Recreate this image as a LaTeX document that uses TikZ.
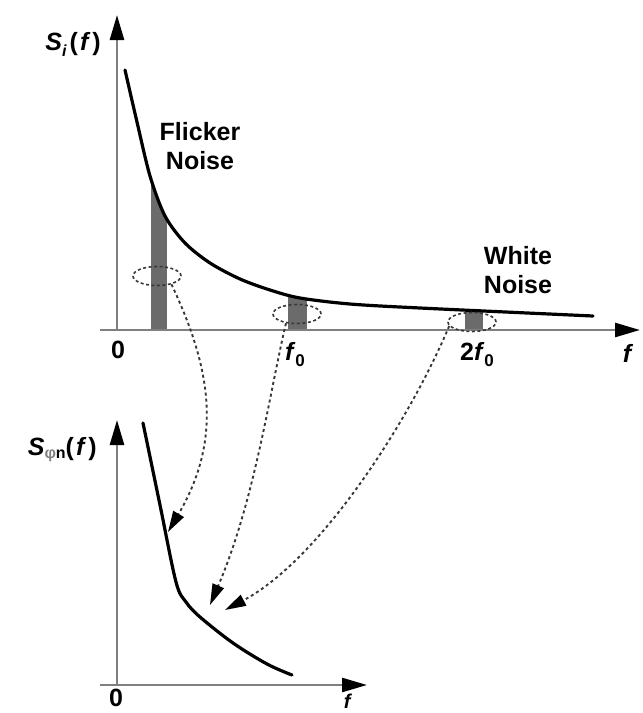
\documentclass[tikz,border=0pt]{standalone}
\usepackage{fontspec}
\setmainfont{Liberation Sans}
\usetikzlibrary{arrows.meta,shapes.geometric}
\definecolor{axisgray}{gray}{0.5}
\definecolor{bargray}{gray}{0.42}
\definecolor{dashgray}{gray}{0.22}
\begin{document}
\begin{tikzpicture}[x=1pt,y=-1pt,
  font=\fontsize{25}{29}\selectfont\bfseries,
  axis/.style={draw=axisgray, line width=2.6pt, -{Triangle[length=25pt,width=14pt,color=black]}},
  curve/.style={line width=3.2pt, line cap=round},
  slice/.style={ellipse, draw=dashgray, dash pattern=on 3pt off 2.5pt, line width=1.6pt, minimum width=48pt, minimum height=19pt, inner sep=0pt},
  link/.style={draw=dashgray, dash pattern=on 3pt off 3pt, line width=1.9pt, -{Triangle[length=21pt,width=12pt,color=black]}},
  lab/.style={inner sep=0pt, anchor=base}]
\useasboundingbox (0,0) rectangle (643,713);
% coordinates
\coordinate (ya1) at (117,330);
\coordinate (yb1) at (117,15);
\coordinate (xa1) at (100,330);
\coordinate (xb1) at (640,330);
\coordinate (ya2) at (117,685);
\coordinate (yb2) at (117,420);
\coordinate (xa2) at (100,685);
\coordinate (xb2) at (367,685);
% bars under the top curve
\begin{scope}
  \clip plot[smooth] coordinates {(125,70) (137,122) (150,176) (165,216) (185,243) (210,263) (240,279) (270,290) (300,298) (350,304) (420,308) (593,316)} -- (593,330) -- (125,330) -- cycle;
  \fill[bargray] (151,60) rectangle (167,330);
  \fill[bargray] (288,60) rectangle (307,330);
  \fill[bargray] (465,60) rectangle (483,330);
\end{scope}
% axes
\draw[axis] (ya1) -- (yb1);
\draw[axis] (xa1) -- (xb1);
\draw[axis] (ya2) -- (yb2);
\draw[axis] (xa2) -- (xb2);
% curves
\draw[curve] plot[smooth] coordinates {(125,70) (137,122) (150,176) (165,216) (185,243) (210,263) (240,279) (270,290) (300,298) (350,304) (420,308) (593,316)};
\draw[curve] plot[smooth, tension=0.55] coordinates {(143,423) (160,505) (176,582) (186,602) (200,617) (233,643) (267,664) (292,675)};
% slices
\node[slice] (e1) at (157,276) {};
\node[slice] (e2) at (297,314) {};
\node[slice] (e3) at (472,322) {};
% arrow targets
\coordinate (t1) at (168,532);
\coordinate (t2) at (210,605);
\coordinate (t3) at (225,610);
\draw[link] (e1.-30) .. controls (212,370) and (222,440) .. (t1);
\draw[link] (e2.-140) .. controls (270,390) and (255,500) .. (t2);
\draw[link] (e3.190) .. controls (410,420) and (320,560) .. (t3);
% labels
\node[lab, anchor=base east] (sil) at (101,50) {\textit{S}\raisebox{-6pt}{\fontsize{16}{16}\selectfont\textit{i}}\hspace{3pt}(\hspace{2pt}\textit{f}\hspace{2pt})};
\node[lab, anchor=base east] (sphl) at (97,455) {\textit{S}\raisebox{-3pt}{\fontsize{16}{16}\selectfont\textcolor{gray}{φ}n}(\hspace{2pt}\textit{f}\hspace{2pt})};
\node[lab] (z1) at (118,358) {0};
\node[lab] (f0) at (295,360) {\textit{f}\raisebox{-6pt}{\fontsize{17}{17}\selectfont 0}};
\node[lab] (f20) at (477,360) {2\textit{f}\raisebox{-6pt}{\fontsize{17}{17}\selectfont 0}};
\node[lab] (fx1) at (628,362) {\textit{f}};
\node[lab] (z2) at (116,706) {0};
\node[lab, font=\fontsize{20}{24}\selectfont\bfseries] (fx2) at (348,708) {\textit{f}};
\node[lab, align=center, anchor=north] (flk) at (200,122) {Flicker\\Noise};
\node[lab, align=center, anchor=north] (wht) at (518,246) {White\\Noise};
\end{tikzpicture}
\end{document}
